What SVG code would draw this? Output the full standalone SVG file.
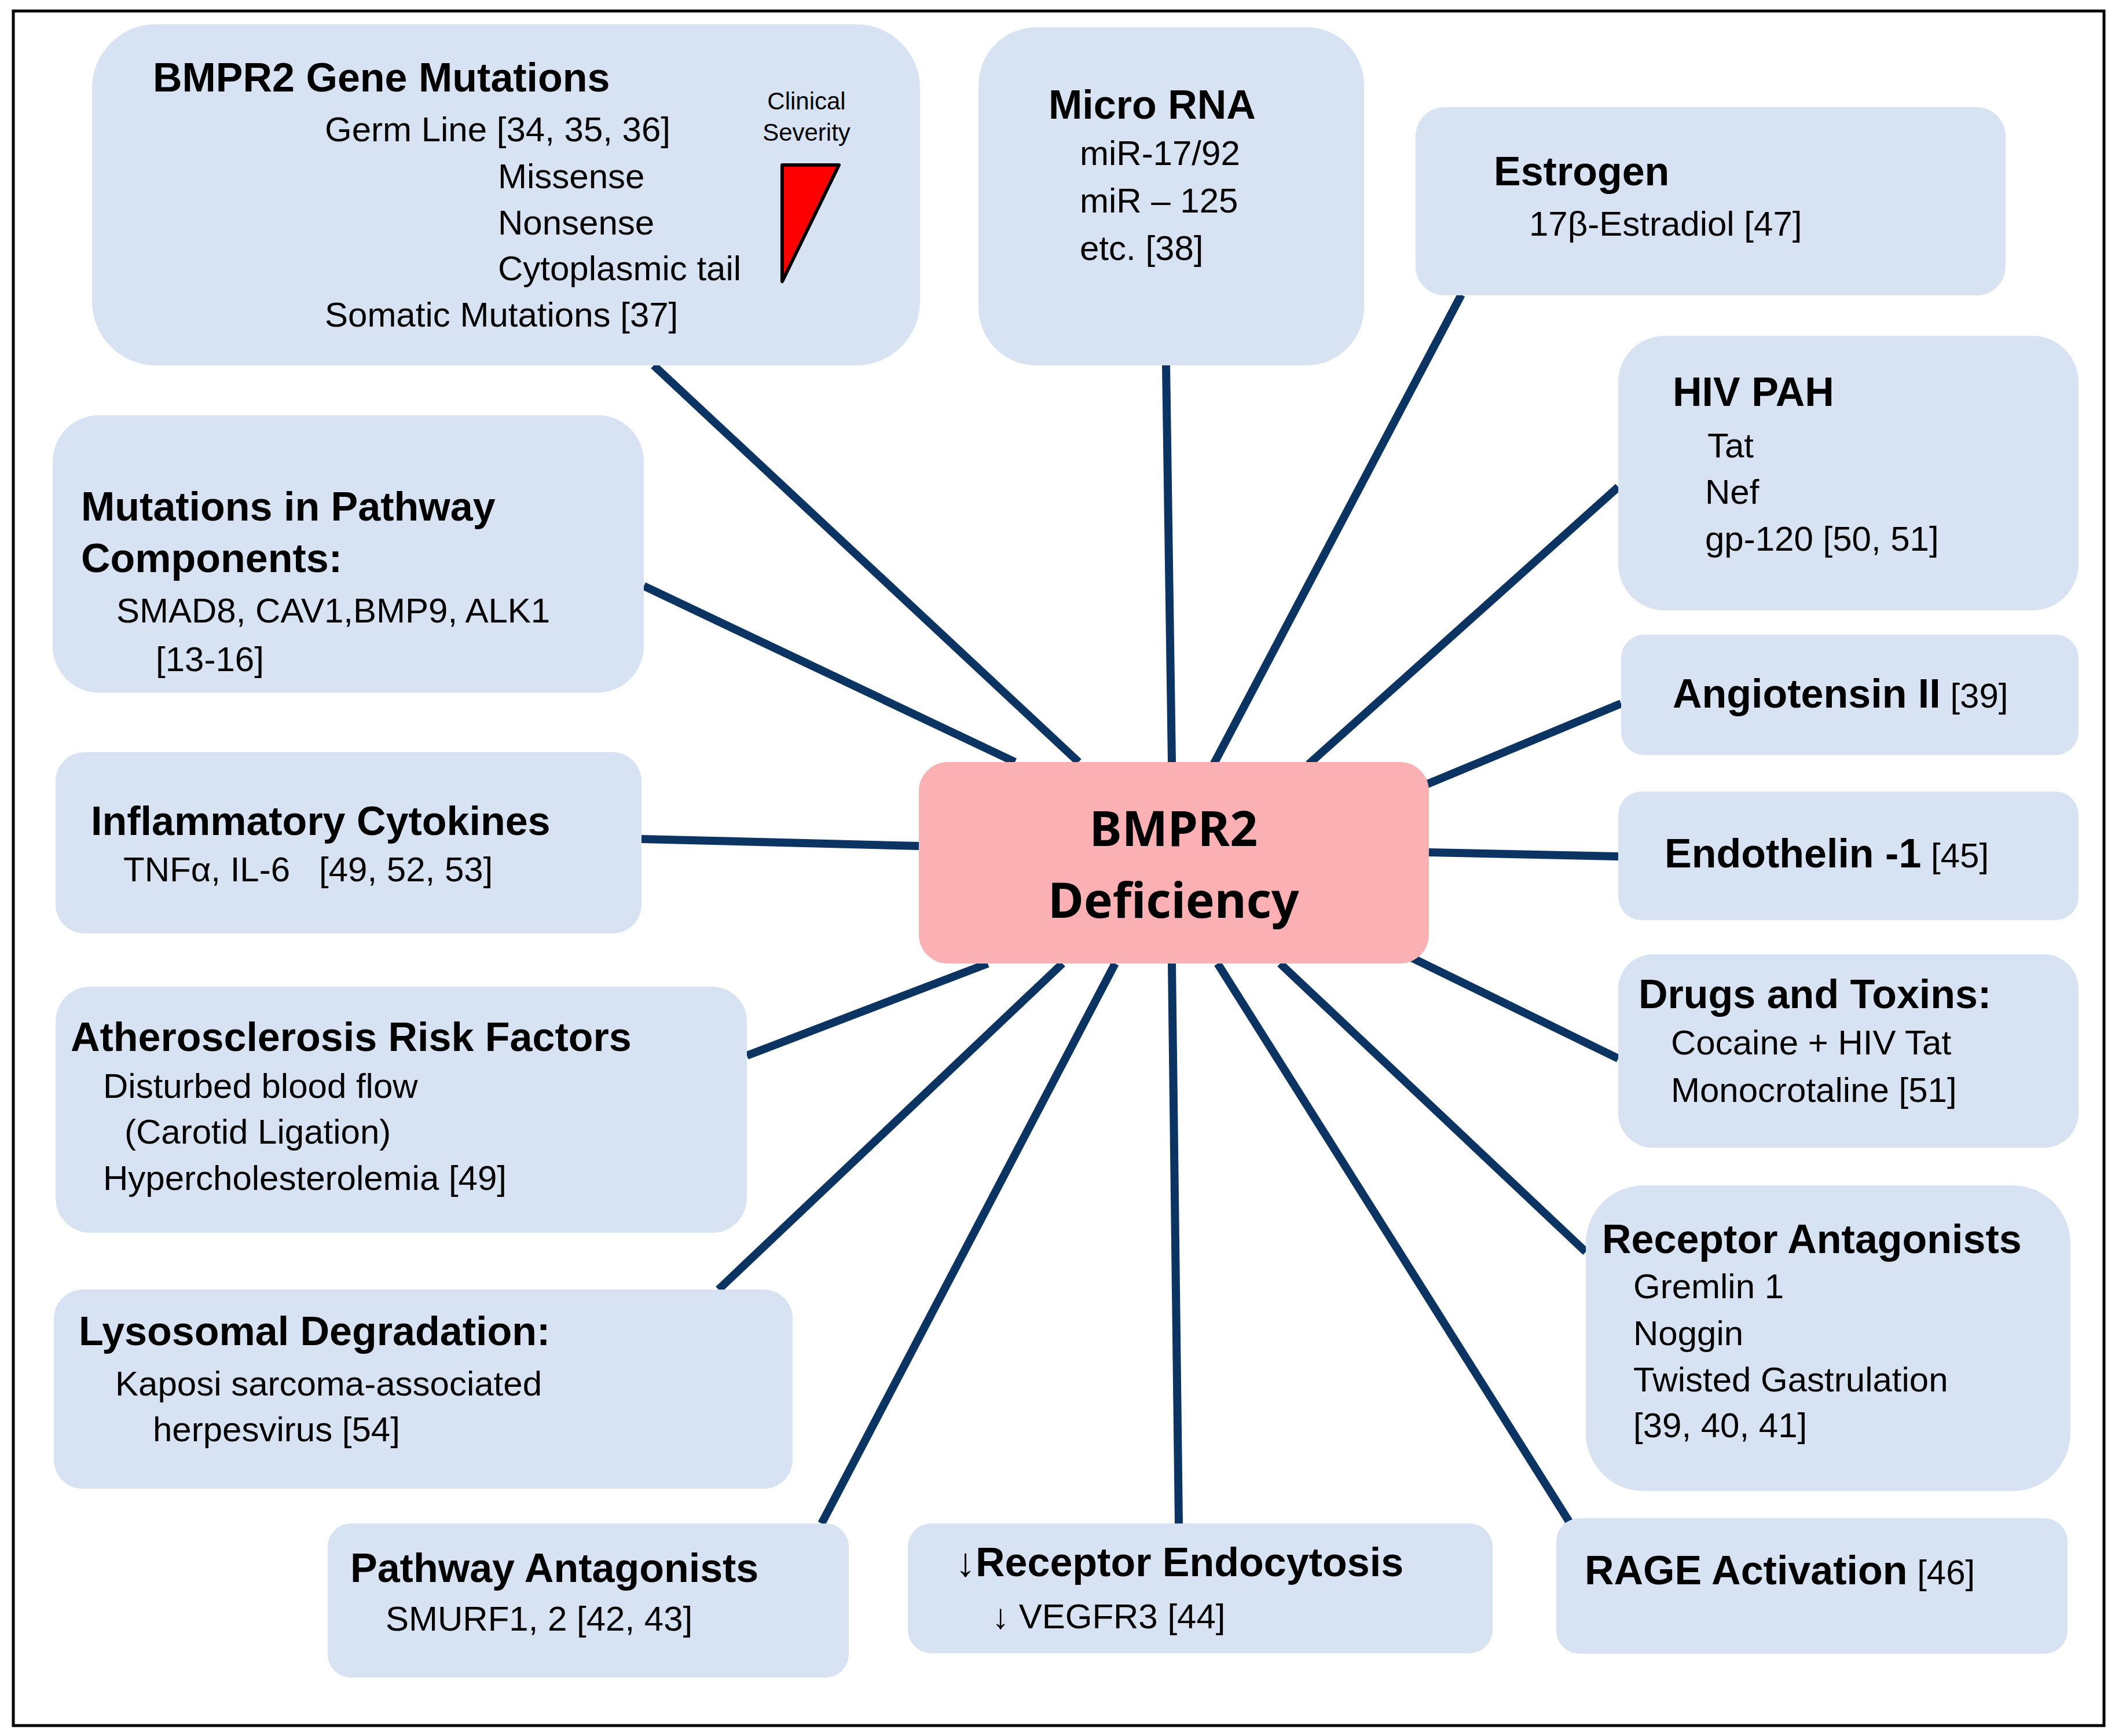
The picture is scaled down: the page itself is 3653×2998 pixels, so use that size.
<svg xmlns="http://www.w3.org/2000/svg" width="3653" height="2998" viewBox="0 0 3653 2998">
<style>
.n{fill:#d7e3f2}
.t{font-family:"Liberation Sans",Arial,sans-serif;font-size:70px;font-weight:bold;fill:#000}
.b{font-family:"Liberation Sans",Arial,sans-serif;font-size:60px;fill:#000}
.s{font-family:"Liberation Sans",Arial,sans-serif;font-size:42px;fill:#000;text-anchor:middle}
.c{stroke:#0c3463;stroke-width:14;fill:none}
</style>
<rect width="3653" height="2998" fill="#fff"/>
<rect x="23" y="19" width="3611" height="2961" fill="none" stroke="#000" stroke-width="5"/>
<g id="connectors" class="c">
<line x1="1129" y1="631" x2="1863" y2="1316"/>
<line x1="2014" y1="631" x2="2024" y2="1316"/>
<line x1="2524" y1="509" x2="2096" y2="1320"/>
<line x1="2795" y1="841" x2="2260" y2="1320"/>
<line x1="2800" y1="1215" x2="2463" y2="1355"/>
<line x1="2795" y1="1479" x2="2468" y2="1472"/>
<line x1="2795" y1="1828" x2="2430" y2="1650"/>
<line x1="2739" y1="2162" x2="2211" y2="1664"/>
<line x1="2711" y1="2629" x2="2103" y2="1664"/>
<line x1="2036" y1="2631" x2="2024" y2="1664"/>
<line x1="1419" y1="2631" x2="1926" y2="1664"/>
<line x1="1241" y1="2227" x2="1835" y2="1664"/>
<line x1="1290" y1="1823" x2="1706" y2="1664"/>
<line x1="1108" y1="1449" x2="1587" y2="1461"/>
<line x1="1112" y1="1012" x2="1753" y2="1316"/>
</g>
<g id="gene">
<rect class="n" x="159" y="42" width="1430" height="589" rx="110"/>
<text class="t" x="264" y="158">BMPR2 Gene Mutations</text>
<text class="b" x="561" y="244">Germ Line [34, 35, 36]</text>
<text class="b" x="860" y="325">Missense</text>
<text class="b" x="860" y="405">Nonsense</text>
<text class="b" x="860" y="484">Cytoplasmic tail</text>
<text class="b" x="561" y="564">Somatic Mutations [37]</text>
<text class="s" x="1393" y="189">Clinical</text>
<text class="s" x="1393" y="243">Severity</text>
<polygon points="1351,285 1449,285 1351,486" fill="#f00" stroke="#000" stroke-width="6" stroke-linejoin="round"/>
</g>
<g id="mirna">
<rect class="n" x="1690" y="47" width="666" height="584" rx="100"/>
<text class="t" x="1811" y="205">Micro RNA</text>
<text class="b" x="1865" y="285">miR-17/92</text>
<text class="b" x="1865" y="367">miR – 125</text>
<text class="b" x="1865" y="449">etc. [38]</text>
</g>
<g id="estrogen">
<rect class="n" x="2445" y="185" width="1019" height="325" rx="50"/>
<text class="t" x="2580" y="320">Estrogen</text>
<text class="b" x="2641" y="407">17β-Estradiol [47]</text>
</g>
<g id="hiv">
<rect class="n" x="2795" y="580" width="795" height="474" rx="80"/>
<text class="t" x="2889" y="701">HIV PAH</text>
<text class="b" x="2949" y="790">Tat</text>
<text class="b" x="2945" y="870">Nef</text>
<text class="b" x="2945" y="951">gp-120 [50, 51]</text>
</g>
<g id="angiotensin">
<rect class="n" x="2800" y="1096" width="790" height="208" rx="40"/>
<text x="2889" y="1222"><tspan class="t">Angiotensin II</tspan><tspan class="b"> [39]</tspan></text>
</g>
<g id="endothelin">
<rect class="n" x="2795" y="1367" width="795" height="222" rx="40"/>
<text x="2875" y="1498"><tspan class="t">Endothelin -1</tspan><tspan class="b"> [45]</tspan></text>
</g>
<g id="drugs">
<rect class="n" x="2795" y="1648" width="795" height="334" rx="60"/>
<text class="t" x="2830" y="1741">Drugs and Toxins:</text>
<text class="b" x="2886" y="1821">Cocaine + HIV Tat</text>
<text class="b" x="2886" y="1903">Monocrotaline [51]</text>
</g>
<g id="receptor-antagonists">
<rect class="n" x="2739" y="2047" width="837" height="528" rx="100"/>
<text class="t" x="2767" y="2164">Receptor Antagonists</text>
<text class="b" x="2821" y="2242">Gremlin 1</text>
<text class="b" x="2821" y="2323">Noggin</text>
<text class="b" x="2821" y="2403">Twisted Gastrulation</text>
<text class="b" x="2821" y="2482">[39, 40, 41]</text>
</g>
<g id="rage">
<rect class="n" x="2688" y="2622" width="883" height="234" rx="40"/>
<text x="2737" y="2736"><tspan class="t">RAGE Activation</tspan><tspan class="b"> [46]</tspan></text>
</g>
<g id="endocytosis">
<rect class="n" x="1568" y="2631" width="1010" height="224" rx="40"/>
<text class="t" x="1650" y="2722">↓Receptor Endocytosis</text>
<text class="b" x="1713" y="2812">↓ VEGFR3 [44]</text>
</g>
<g id="pathway-antagonists">
<rect class="n" x="566" y="2631" width="900" height="266" rx="40"/>
<text class="t" x="605" y="2732">Pathway Antagonists</text>
<text class="b" x="666" y="2816">SMURF1, 2 [42, 43]</text>
</g>
<g id="lysosomal">
<rect class="n" x="93" y="2227" width="1276" height="344" rx="50"/>
<text class="t" x="136" y="2323">Lysosomal Degradation:</text>
<text class="b" x="199" y="2410">Kaposi sarcoma-associated</text>
<text class="b" x="264" y="2489">herpesvirus [54]</text>
</g>
<g id="atherosclerosis">
<rect class="n" x="96" y="1704" width="1194" height="425" rx="60"/>
<text class="t" x="122" y="1815">Atherosclerosis Risk Factors</text>
<text class="b" x="178" y="1896">Disturbed blood flow</text>
<text class="b" x="215" y="1975">(Carotid Ligation)</text>
<text class="b" x="178" y="2055">Hypercholesterolemia [49]</text>
</g>
<g id="cytokines">
<rect class="n" x="96" y="1299" width="1012" height="313" rx="50"/>
<text class="t" x="157" y="1442">Inflammatory Cytokines</text>
<text class="b" x="213" y="1522" xml:space="preserve">TNFα, IL-6   [49, 52, 53]</text>
</g>
<g id="pathway-mutations">
<rect class="n" x="91" y="717" width="1021" height="479" rx="80"/>
<text class="t" x="140" y="899">Mutations in Pathway</text>
<text class="t" x="140" y="988">Components:</text>
<text class="b" x="201" y="1075">SMAD8, CAV1,BMP9, ALK1</text>
<text class="b" x="269" y="1159">[13-16]</text>
</g>
<g id="center">
<rect x="1587" y="1316" width="881" height="348" rx="50" fill="#fbb0b4"/>
<text x="2027" y="1461" text-anchor="middle" font-family="'Noto Sans',sans-serif" font-weight="bold" font-size="84">BMPR2</text>
<text x="2027" y="1585" text-anchor="middle" font-family="'Noto Sans',sans-serif" font-weight="bold" font-size="84">Deficiency</text>
</g>
</svg>
